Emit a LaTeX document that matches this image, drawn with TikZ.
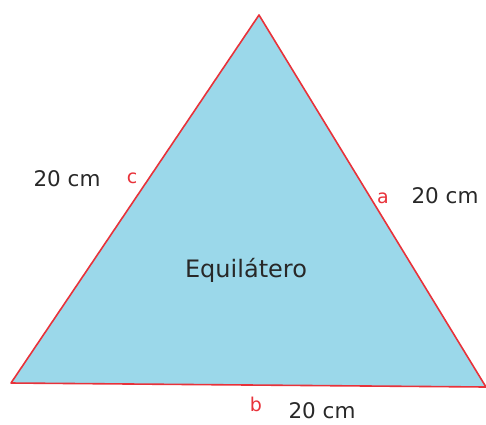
\documentclass[tikz,border=0pt]{standalone}
\usepackage{fontspec}
\setmainfont{DejaVu Sans}
\definecolor{trifill}{RGB}{155,216,234}
\definecolor{triline}{RGB}{232,50,58}
\definecolor{txt}{RGB}{40,40,40}
\begin{document}
\begin{tikzpicture}[x=1pt,y=-1pt,
  meas/.style={text=txt,font=\fontsize{21.5}{23}\selectfont,inner sep=0pt},
  sidelbl/.style={text=triline,font=\fontsize{19}{21}\selectfont,inner sep=0pt},
  ttl/.style={text=txt,font=\fontsize{24}{26}\selectfont,inner sep=0pt}]
\useasboundingbox (0,0) rectangle (486,424);
\coordinate (A) at (259,15);
\coordinate (B) at (11,383);
\coordinate (C) at (486,387);
\fill[trifill] (A) -- (B) -- (C) -- cycle;
\draw[triline,line width=1.6pt,line join=round] (A) -- (B) -- (C) -- cycle;
\node[ttl] (t) at (246,270) {Equilátero};
\node[sidelbl] (lc) at (132,178) {c};
\node[sidelbl] (la) at (383,198) {a};
\node[sidelbl] (lb) at (256,404) {b};
\node[meas] (mc) at (67,179) {20 cm};
\node[meas] (ma) at (445,196) {20 cm};
\node[meas] (mb) at (322,411) {20 cm};
\end{tikzpicture}
\end{document}
